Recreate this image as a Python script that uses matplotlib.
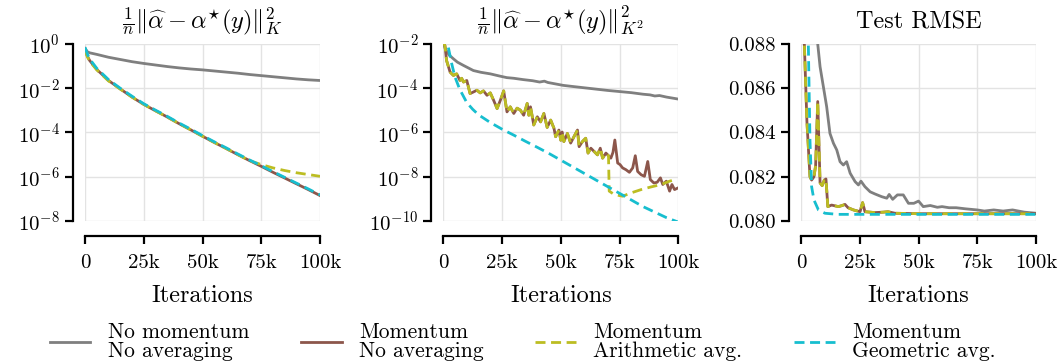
import numpy as np
import matplotlib
matplotlib.use("Agg")
import matplotlib.pyplot as plt
from matplotlib.ticker import NullLocator, FixedLocator, FormatStrFormatter

plt.rcParams["font.family"] = ["cmr10"]
plt.rcParams["mathtext.fontset"] = "cm"
plt.rcParams["axes.formatter.use_mathtext"] = True
plt.rcParams["axes.unicode_minus"] = False

# ---- data (iterations in thousands) ----
labels = ["No momentum\nNo averaging", "Momentum\nNo averaging",
          "Momentum\nArithmetic avg.", "Momentum\nGeometric avg."]
colors = ["#7f7f7f", "#8c564b", "#bcbd22", "#17becf"]

# panel 1: log10 of (1/n)||a - a*||_K^2
p1_iters = [0, 1, 2, 5, 10, 15, 20, 25, 30, 35, 40, 45, 50, 55, 60, 65, 70, 75, 80, 85, 90, 95, 100]
p1_gray = [-0.2, -0.35, -0.4, -0.47, -0.6, -0.7, -0.8, -0.88, -0.95, -1.02, -1.08, -1.13, -1.17,
           -1.22, -1.27, -1.32, -1.38, -1.43, -1.48, -1.53, -1.58, -1.62, -1.65]
p1_mom = [-0.25, -0.55, -0.75, -1.15, -1.65, -2.03, -2.4, -2.73, -3.02, -3.3, -3.6, -3.88, -4.17,
          -4.45, -4.72, -5.0, -5.27, -5.53, -5.8, -6.06, -6.32, -6.58, -6.85]
p1_arith = [-0.3, -0.58, -0.78, -1.17, -1.67, -2.04, -2.4, -2.73, -3.02, -3.3, -3.6, -3.88, -4.17,
            -4.45, -4.72, -5.0, -5.27, -5.45, -5.6, -5.72, -5.82, -5.9, -5.98]
p1_geom = [-0.15, -0.45, -0.68, -1.1, -1.61, -2.0, -2.36, -2.7, -2.99, -3.27, -3.57, -3.85, -4.14,
           -4.42, -4.69, -4.97, -5.24, -5.5, -5.77, -6.03, -6.29, -6.55, -6.82]

# panel 2: log10 of (1/n)||a - a*||_{K^2}^2
p2_gray_iters = [0, 1, 2.5, 4.3, 6, 8.6, 12.8, 16, 20, 24, 27, 30, 34, 38, 41, 43, 44.5, 47, 51,
                 55, 60, 65, 70, 75, 80, 85, 88, 90, 92, 95, 100]
p2_gray = [-1.95, -2.25, -2.5, -2.67, -2.82, -2.97, -3.2, -3.28, -3.35, -3.45, -3.52, -3.55, -3.61,
           -3.66, -3.72, -3.68, -3.74, -3.79, -3.87, -3.92, -3.98, -4.04, -4.1, -4.15, -4.2, -4.27,
           -4.3, -4.35, -4.33, -4.4, -4.49]
p2_mom_iters = [0, 0.7, 1.4, 2.9, 4.3, 5.7, 7.1, 7.8, 8.6, 10, 11.4, 12.8, 14.3, 15.7, 17.1, 18.6,
                20, 21.4, 22.9, 24.3, 25.7, 27.1, 28.5, 30, 31.4, 32.8, 34.2, 35.7, 36.4, 37.1,
                38.5, 40, 41.4, 42.8, 44.2, 45.7, 47.1, 47.8, 49.2, 50, 50.6, 51.3, 52.8, 54.2,
                55.6, 57.1, 57.8, 59.2, 60.6, 61.6, 62.8, 64.2, 65.6, 66.8, 67.8, 69.2, 70.3]
p2_mom = [-1.9, -2.08, -2.75, -3.27, -3.42, -3.35, -3.65, -3.55, -3.72, -3.65, -4.24, -4.17, -4.09,
          -4.21, -4.12, -4.32, -4.21, -4.54, -4.92, -4.54, -4.12, -5.07, -4.84, -5.14, -4.9, -4.99,
          -5.22, -4.69, -5.22, -4.84, -5.66, -5.29, -5.52, -5.14, -5.77, -5.44, -5.81, -6.19,
          -5.89, -6.35, -5.98, -6.41, -6.04, -6.48, -6.19, -5.89, -6.64, -6.41, -6.26, -6.93,
          -6.71, -6.86, -7.01, -6.71, -7.16, -6.93, -7.05]
p2_mom_tail_iters = [71.3, 72.2, 73, 74.2, 75.2, 76.3, 77.7, 79.2, 80.6, 81.7, 82.7, 84.2, 85.6,
                     87, 88.1, 89.6, 91, 92.4, 93.4, 94.9, 96.3, 97.3, 98.4, 100]
p2_mom_tail = [-7.16, -6.9, -6.34, -7.38, -7.45, -7.6, -7.68, -7.8, -7.6, -7.05, -7.76, -7.91,
               -7.98, -7.31, -8.13, -8.28, -8.25, -8.05, -8.35, -8.2, -8.65, -8.35, -8.58, -8.5]
p2_arith_tail_iters = [70.6, 72.7, 76.3, 79.9, 84.2, 88.4, 92.7, 96.3, 97.7]
p2_arith_tail = [-8.65, -8.8, -8.88, -8.73, -8.58, -8.46, -8.35, -8.2, -8.16]
p2_geom_iters = [0, 1, 2, 3.6, 5, 7, 10, 12.5, 15, 20, 25, 30, 35, 40, 45, 50, 55, 60, 65, 70,
                 75, 80, 85, 90, 95, 100]
p2_geom = [-1.5, -1.8, -2.08, -2.9, -3.5, -4.05, -4.65, -4.95, -5.2, -5.55, -5.85, -6.12, -6.4,
           -6.67, -6.95, -7.25, -7.55, -7.85, -8.15, -8.45, -8.75, -9.05, -9.35, -9.6, -9.85,
           -10.05]

# panel 3: test RMSE
p3_gray_iters = [0, 4, 7.1, 8.1, 9.5, 10.9, 12.3, 13.8, 15.2, 16.6, 18, 19.4, 20.9, 23, 24.4, 25.5,
                 27.2, 29.4, 31.5, 34.3, 36.5, 37.5, 39, 41, 43.5, 45.7, 48, 50, 52, 55, 58, 60,
                 63, 66, 70, 75, 78, 82, 86, 90, 95, 100]
p3_gray = [0.095, 0.0905, 0.0880, 0.08697, 0.08607, 0.08517, 0.08396, 0.08351, 0.08321, 0.08268,
           0.08253, 0.08268, 0.08216, 0.08178, 0.08163, 0.0818, 0.08155, 0.08132, 0.08122, 0.0811,
           0.08103, 0.0812, 0.08098, 0.08118, 0.08118, 0.0808, 0.0808, 0.0809, 0.08065, 0.0807,
           0.08062, 0.08065, 0.0806, 0.0806, 0.08055, 0.0805, 0.08045, 0.0805, 0.08045, 0.0805,
           0.0804, 0.08035]
p3_mom_iters = [0, 1.4, 2.5, 3.8, 4.5, 5.5, 6.2, 7.1, 8.1, 9, 9.9, 10.6, 11.4, 13, 15.9, 17.5,
                18.7, 20, 22.3, 25.1, 26.2, 27.2, 31.5, 35, 37, 40, 50, 100]
p3_mom = [0.095, 0.088, 0.0845, 0.0820, 0.08185, 0.0820, 0.0825, 0.0854, 0.08172, 0.0816,
          0.08185, 0.0819, 0.08065, 0.08072, 0.08065, 0.0807, 0.08075, 0.0806, 0.0805, 0.08042,
          0.08083, 0.08042, 0.08038, 0.0804, 0.08042, 0.08035, 0.08033, 0.08033]
p3_geom_iters = [0, 3.1, 3.8, 4.5, 5.5, 7.4, 10.2, 15.7, 100]
p3_geom = [0.095, 0.088, 0.08366, 0.08155, 0.08095, 0.0805, 0.08035, 0.0803, 0.0803]

# ---- figure ----
fig = plt.figure(figsize=(10.6, 3.62), dpi=100)
lefts = [0.0802, 0.4182, 0.7557]
axes = [fig.add_axes([l, 0.3895, 0.2217, 0.489]) for l in lefts]
lw = 2.0
dash = (0, (3.6, 2.0))


def k(x):
    return np.asarray(x) * 1000


ax1, ax2, ax3 = axes
ax1.plot(k(p1_iters), 10 ** np.array(p1_gray), color=colors[0], lw=lw, label=labels[0])
ax1.plot(k(p1_iters), 10 ** np.array(p1_mom), color=colors[1], lw=lw, label=labels[1])
ax1.plot(k(p1_iters), 10 ** np.array(p1_arith), color=colors[2], lw=lw, ls=dash, label=labels[2])
ax1.plot(k(p1_iters), 10 ** np.array(p1_geom), color=colors[3], lw=lw, ls=dash, label=labels[3])

ax2.plot(k(p2_gray_iters), 10 ** np.array(p2_gray), color=colors[0], lw=lw)
ax2.plot(k(p2_mom_iters + p2_mom_tail_iters), 10 ** np.array(p2_mom + p2_mom_tail),
         color=colors[1], lw=lw)
ax2.plot(k(p2_mom_iters + p2_arith_tail_iters), 10 ** np.array(p2_mom + p2_arith_tail),
         color=colors[2], lw=lw, ls=dash)
ax2.plot(k(p2_geom_iters), 10 ** np.array(p2_geom), color=colors[3], lw=lw, ls=dash)

ax3.plot(k(p3_gray_iters), p3_gray, color=colors[0], lw=lw)
ax3.plot(k(p3_mom_iters), p3_mom, color=colors[1], lw=lw)
ax3.plot(k(p3_mom_iters), p3_mom, color=colors[2], lw=lw, ls=dash)
ax3.plot(k(p3_geom_iters), p3_geom, color=colors[3], lw=lw, ls=dash)

titles = [r"$\frac{1}{n}\|\widehat{\alpha} - \alpha^{\star}(y)\|_K^2$",
          r"$\frac{1}{n}\|\widehat{\alpha} - \alpha^{\star}(y)\|_{K^2}^2$",
          "Test RMSE"]

ax1.set_yscale("log")
ax1.set_ylim(1e-8, 1e0)
ax1.yaxis.set_major_locator(FixedLocator([1e-8, 1e-6, 1e-4, 1e-2, 1e0]))
ax2.set_yscale("log")
ax2.set_ylim(1e-10, 1e-2)
ax2.yaxis.set_major_locator(FixedLocator([1e-10, 1e-8, 1e-6, 1e-4, 1e-2]))
ax3.set_ylim(0.080, 0.088)
ax3.set_yticks([0.080, 0.082, 0.084, 0.086, 0.088])
ax3.yaxis.set_major_formatter(FormatStrFormatter("%.3f"))

for ax, t in zip(axes, titles):
    ax.set_xlim(0, 100000)
    ax.set_xticks([0, 25000, 50000, 75000, 100000])
    ax.set_xticklabels(["0", "25k", "50k", "75k", "100k"])
    ax.yaxis.set_minor_locator(NullLocator())
    ax.grid(True, color="#e3e3e3", lw=1.0)
    ax.set_axisbelow(True)
    for s in ["top", "right"]:
        ax.spines[s].set_visible(False)
    ax.spines["left"].set_position(("outward", 8.5))
    ax.spines["bottom"].set_position(("outward", 11))
    ax.spines["left"].set_linewidth(1.6)
    ax.spines["bottom"].set_linewidth(1.6)
    ax.tick_params(length=6, width=1.6, labelsize=15, pad=3.5)
    ax.tick_params(axis="x", pad=7)
    ax.set_xlabel("Iterations", fontsize=17.5, labelpad=9)
    ax.set_title(t, fontsize=17.5, pad=11)

leg = fig.legend(*ax1.get_legend_handles_labels(), loc="lower center", bbox_to_anchor=(0.493, -0.05),
                 ncol=4, frameon=False, fontsize=15.5, handlelength=1.9, handletextpad=0.8,
                 columnspacing=2.4)
for t in leg.get_texts():
    t.set_linespacing(0.95)

fig.savefig("out.png", dpi=100)
